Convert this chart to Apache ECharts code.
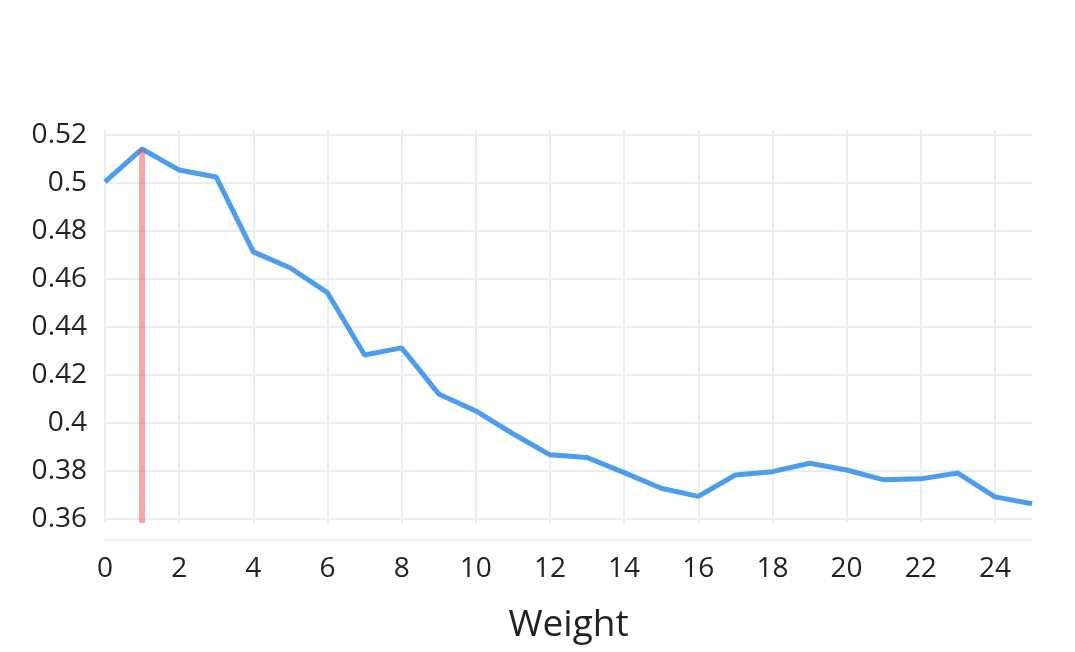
<!DOCTYPE html>
<html>
<head>
<meta charset="UTF-8">
<title>Weight</title>
<script src="https://cdn.jsdelivr.net/npm/echarts@6/dist/echarts.min.js"></script>
<style>
  *{margin:0;padding:0;}
  body{background:#fff;}
  #main{width:1075px;height:652px;}
</style>
</head>
<body>
<div id="main"></div>
<script>
// data
var weights = [0,1,2,3,4,5,6,7,8,9,10,11,12,13,14,15,16,17,18,19,20,21,22,23,24,25];
var scores = [0.5005,0.5142,0.5054,0.5025,0.4713,0.4646,0.4543,0.4283,0.4313,0.4121,0.4050,0.3955,0.3867,0.3856,0.3793,0.3728,0.3694,0.3783,0.3797,0.3832,0.3804,0.3763,0.3767,0.3791,0.3692,0.3663];
var xTicks = [0,2,4,6,8,10,12,14,16,18,20,22,24];
var yTicks = [0.36,0.38,0.40,0.42,0.44,0.46,0.48,0.50,0.52];
var bestX = 1;
var bestY = [0.3583, 0.5142];

var gridColor = '#e8edf6';
var textColor = '#222';

var chart = echarts.init(document.getElementById('main'));

var option = {
  animation: false,
  grid: {left: 105, right: 43, top: 130, bottom: 129},
  xAxis: {
    type: 'value',
    min: 0, max: 25,
    name: 'Weight',
    nameLocation: 'middle',
    nameGap: 67,
    nameTextStyle: {fontFamily: 'Open Sans', fontSize: 37, color: textColor},
    offset: 17,
    axisLine: {show: true, lineStyle: {color: gridColor, width: 2}},
    axisTick: {show: false, customValues: xTicks},
    axisLabel: {customValues: xTicks, fontFamily: 'Open Sans', fontSize: 28, color: textColor, margin: 15},
    splitLine: {show: true, lineStyle: {color: gridColor, width: 2}}
  },
  yAxis: {
    type: 'value',
    min: 0.3583, max: 0.5221,
    axisLine: {show: false},
    axisTick: {show: false, customValues: yTicks},
    axisLabel: {
      customValues: yTicks,
      fontFamily: 'Open Sans', fontSize: 28, color: textColor, margin: 18,
      formatter: function (v) { return String(+v.toFixed(2)); }
    },
    splitLine: {show: true, lineStyle: {color: gridColor, width: 2}}
  },
  series: [
    {
      type: 'line',
      data: weights.map(function (w, i) { return [w, scores[i]]; }),
      showSymbol: false,
      lineStyle: {color: '#4c9cf0', width: 5},
      z: 2
    },
    {
      type: 'line',
      data: bestY.map(function (y) { return [bestX, y]; }),
      showSymbol: false,
      lineStyle: {color: 'rgba(240,80,80,0.5)', width: 6},
      z: 3
    }
  ]
};

chart.setOption(option);
</script>
</body>
</html>
